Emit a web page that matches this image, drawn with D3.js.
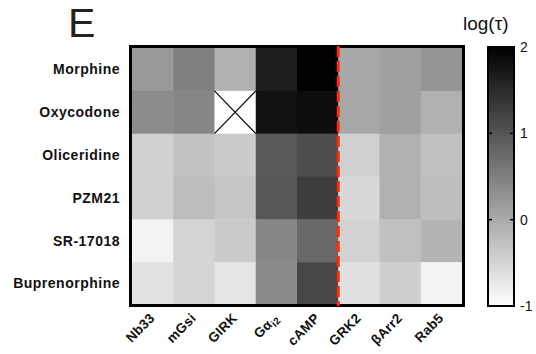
<!DOCTYPE html>
<html><head><meta charset="utf-8">
<script src="https://cdn.jsdelivr.net/npm/d3@7"></script>
<style>
html,body{margin:0;padding:0;background:#fff;}
svg{display:block;font-family:"Liberation Sans",Arial,sans-serif;}
</style></head>
<body>
<svg id="chart" width="536" height="354"></svg>
<script>
const compounds = ["Morphine","Oxycodone","Oliceridine","PZM21","SR-17018","Buprenorphine"];
const assays = ["Nb33","mGsi","GIRK","Gai2","cAMP","GRK2","bArr2","Rab5"];
// log(tau) values, rows = compounds, columns = assays (null = not determined)
const morphine      = [0.20, 0.49, -0.07, 1.65, 2.00, 0.02, 0.12, 0.25];
const oxycodone     = [0.35, 0.42, null, 1.80, 1.85, 0.02, 0.12, -0.07];
const oliceridine   = [-0.45, -0.28, -0.39, 0.94, 1.08, -0.45, -0.07, -0.26];
const pzm21         = [-0.45, -0.22, -0.33, 0.98, 1.28, -0.54, -0.07, -0.24];
const sr17018       = [-0.86, -0.49, -0.39, 0.41, 0.78, -0.47, -0.26, -0.12];
const buprenorphine = [-0.66, -0.51, -0.69, 0.40, 1.16, -0.64, -0.44, -0.86];
const colorTicks = [-1, 0, 1, 2];
const dividerAfter = "cAMP";

const rows = [morphine, oxycodone, oliceridine, pzm21, sr17018, buprenorphine];
const cells = [];
rows.forEach((r, i) => r.forEach((v, j) => cells.push({row: compounds[i], col: assays[j], v})));

const svg = d3.select("#chart");
const x = d3.scaleBand().domain(assays).range([132, 462]).padding(0);
const y = d3.scaleBand().domain(compounds).range([48, 305]).padding(0);
const color = d3.scaleLinear().domain([-1, 2]).range(["#ffffff", "#000000"]);

// Cells
svg.append("g").selectAll("rect").data(cells).join("rect")
  .attr("x", d => x(d.col)).attr("y", d => y(d.row))
  .attr("width", x.bandwidth() + 0.5).attr("height", y.bandwidth() + 0.5)
  .attr("fill", d => d.v == null ? "#ffffff" : color(d.v));

// Missing cells: X
const miss = cells.filter(d => d.v == null);
const mg = svg.append("g").attr("stroke", "#000").attr("stroke-width", 1.2);
miss.forEach(d => {
  const x0 = x(d.col), y0 = y(d.row), w = x.bandwidth(), h = y.bandwidth();
  mg.append("line").attr("x1", x0).attr("y1", y0).attr("x2", x0 + w).attr("y2", y0 + h);
  mg.append("line").attr("x1", x0 + w).attr("y1", y0).attr("x2", x0).attr("y2", y0 + h);
});

// Frame
svg.append("rect").attr("x", 130.5).attr("y", 46.5).attr("width", 333).attr("height", 259)
  .attr("fill", "none").attr("stroke", "#000").attr("stroke-width", 3);

// Divider
const dx = x(dividerAfter) + x.bandwidth();
svg.append("line").attr("x1", dx).attr("x2", dx).attr("y1", 46).attr("y2", 306)
  .attr("stroke", "#ff2a00").attr("stroke-width", 3).attr("stroke-dasharray", "11,4");

// Row labels
svg.append("g").selectAll("text").data(compounds).join("text")
  .attr("x", 120).attr("y", d => y(d) + y.bandwidth() / 2)
  .attr("dy", "0.35em").attr("text-anchor", "end")
  .attr("font-weight", "bold").attr("font-size", 14).attr("letter-spacing", 0.5).attr("fill", "#111")
  .text(d => d);

// Column labels
const cl = svg.append("g").selectAll("text").data(assays).join("text")
  .attr("text-anchor", "end").attr("font-weight", "bold").attr("font-size", 13.5).attr("letter-spacing", 0.3).attr("fill", "#111")
  .attr("transform", d => `translate(${x(d) + x.bandwidth() / 2 + 3},${319}) rotate(-45)`);
cl.each(function(d) {
  const t = d3.select(this);
  if (d === "Gai2") {
    t.append("tspan").text("G\u03b1");
    t.append("tspan").attr("font-size", 10).attr("dy", 3).text("i2");
  } else if (d === "bArr2") {
    t.text("\u03b2Arr2");
  } else t.text(d);
});

// Colorbar
const cbX = 488, cbW = 26;
const cy = d3.scaleLinear().domain([-1, 2]).range([306, 47]);
const defs = svg.append("defs");
const grad = defs.append("linearGradient").attr("id", "cbg").attr("x1", 0).attr("y1", 1).attr("x2", 0).attr("y2", 0);
grad.append("stop").attr("offset", "0%").attr("stop-color", color(-1));
grad.append("stop").attr("offset", "100%").attr("stop-color", color(2));
svg.append("rect").attr("x", cbX).attr("y", cy(2)).attr("width", cbW).attr("height", cy(-1) - cy(2))
  .attr("fill", "url(#cbg)").attr("stroke", "#000").attr("stroke-width", 2);
const tk = svg.append("g");
colorTicks.filter(t => t > -1 && t < 2).forEach(t => {
  tk.append("line").attr("x1", cbX).attr("x2", cbX + 4).attr("y1", cy(t)).attr("y2", cy(t)).attr("stroke", "#000").attr("stroke-width", 1.5);
  tk.append("line").attr("x1", cbX + cbW - 4).attr("x2", cbX + cbW).attr("y1", cy(t)).attr("y2", cy(t)).attr("stroke", "#000").attr("stroke-width", 1.5);
});
svg.append("g").selectAll("text").data(colorTicks).join("text")
  .attr("x", 520).attr("y", d => cy(d)).attr("dy", "0.35em")
  .attr("font-size", 14).attr("fill", "#111").text(d => d);

// Titles
svg.append("text").attr("x", 463).attr("y", 30).attr("font-size", 19).attr("fill", "#111").text("log(\u03c4)");
svg.append("text").attr("x", 68).attr("y", 37).attr("font-size", 41).attr("fill", "#222").text("E");
</script>
</body></html>
